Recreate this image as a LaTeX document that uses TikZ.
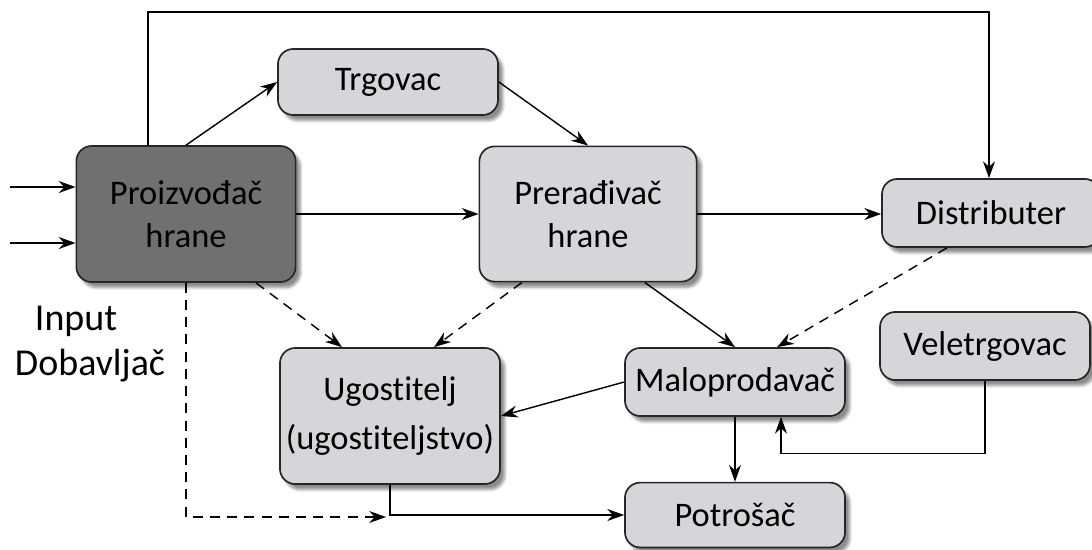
\documentclass[tikz,border=0pt]{standalone}
\usepackage{fontspec}
\setmainfont{Carlito}[Ligatures=NoCommon]
\usetikzlibrary{arrows.meta,shadows.blur}
\definecolor{boxgray}{HTML}{D5D6DA}
\definecolor{darkgray}{HTML}{707070}
\tikzset{
  box/.style={draw=black!85, line width=1.2pt, rounded corners=0.38cm, fill=boxgray,
    minimum width=5.5cm, minimum height=1.65cm, align=center, inner sep=1pt,
    font=\fontsize{24.5}{31}\selectfont,
    blur shadow={shadow xshift=0.12cm, shadow yshift=-0.14cm, shadow blur steps=6, shadow opacity=45}},
  label/.style={anchor=base, font=\fontsize{27}{32}\selectfont},
  flow/.style={->, line width=1pt},
  dflow/.style={->, line width=1pt, dash pattern=on 0.25cm off 0.18cm}
}
\begin{document}
\begin{tikzpicture}[x=0.025cm, y=-0.025cm, >={Stealth[length=0.42cm, width=0.3cm]}]
\useasboundingbox (0,0) rectangle (1092,549);

\node (trgovac) [box] at (388,82) {Trgovac};
\node (proizvodjac) [box, fill=darkgray, minimum height=3.4cm, minimum width=5.48cm] at (186,214) {Proizvođač\\hrane};
\node (preradjivac) [box, minimum height=3.38cm, minimum width=5.43cm] at (588,214) {Prerađivač\\hrane};
\node (distributer) [box, minimum width=5.45cm, minimum height=1.7cm] at (991,213) {Distributer};
\node (veletrgovac) [box, minimum width=5.25cm, minimum height=1.7cm] at (985,346) {Veletrgovac};
\node (maloprodavac) [box, minimum width=5.5cm, minimum height=1.7cm] at (735,382) {Maloprodavač};
\node (ugostitelj) [box, minimum height=3.4cm] at (390,416) {Ugostitelj\\[4pt](ugostiteljstvo)};
\node (potrosac) [box, minimum width=5.5cm, minimum height=1.62cm] at (735,515) {Potrošač};

\node (input) [label] at (76,330) {Input};
\node (dobavljac) [label] at (90,375) {Dobavljač};

\coordinate (in1) at (10,187);
\coordinate (in2) at (10,243);
\coordinate (top) at (600,12);
\coordinate (dashend) at (386,517);

\draw [flow] (in1) -- (in1 -| proizvodjac.west);
\draw [flow] (in2) -- (in2 -| proizvodjac.west);
\draw [flow] ([xshift=-0.95cm]proizvodjac.north) |- (top) -| ([xshift=-0.05cm]distributer.north);
\draw [flow] (proizvodjac.north) -- (trgovac.west);
\draw [flow] (trgovac.east) -- (preradjivac.north);
\draw [flow] (proizvodjac.east) -- (preradjivac.west);
\draw [flow] (preradjivac.east) -- (preradjivac.east -| distributer.west);
\draw [dflow] ([xshift=1.75cm]proizvodjac.south) -- ([xshift=-1.2cm]ugostitelj.north);
\draw [dflow] ([xshift=-1.65cm]preradjivac.south) -- ([xshift=1.1cm]ugostitelj.north);
\draw [flow] ([xshift=1.42cm]preradjivac.south) -- (maloprodavac.north);
\draw [dflow] ([xshift=-1.1cm]distributer.south) -- ([xshift=1.05cm]maloprodavac.north);
\draw [flow] (maloprodavac.west) -- (ugostitelj.east);
\draw [flow] (maloprodavac.south) -- (potrosac.north);
\draw [flow] (veletrgovac.south) |- ([xshift=1.15cm, yshift=-0.92cm]maloprodavac.south) -- ([xshift=1.15cm]maloprodavac.south);
\draw [flow] (ugostitelj.south) |- (potrosac.west);
\draw [dflow] (proizvodjac.south) |- (dashend);

\end{tikzpicture}
\end{document}
